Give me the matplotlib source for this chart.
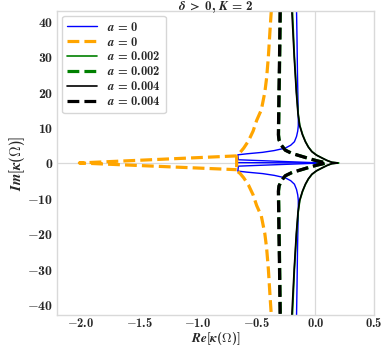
import matplotlib
matplotlib.use("Agg")
import matplotlib.pyplot as plt
import seaborn as sns

# --- DADOS ---
# a = 0, linha fina azul: ramo superior, ramo inferior e linha central
blue_up_re = [-0.160, -0.156, -0.152, -0.148, -0.145, -0.145, -0.150, -0.160, -0.178, -0.210,
              -0.256, -0.35, -0.45, -0.58, -0.66, -0.655, -0.50, -0.30, -0.10, 0.06]
blue_up_im = [43, 35, 25, 18, 14, 10.5, 9.0, 7.5, 6.0, 5.0,
              4.2, 3.5, 3.0, 2.6, 2.3, 0.9, 0.7, 0.45, 0.2, 0.0]
blue_lo_re = [-0.160, -0.156, -0.152, -0.148, -0.145, -0.145, -0.150, -0.160, -0.178, -0.210,
              -0.256, -0.35, -0.45, -0.58, -0.66, -0.655, -0.50, -0.30, -0.10, 0.06]
blue_lo_im = [-43, -35, -25, -18, -14, -10.5, -9.0, -7.5, -6.0, -5.0,
              -4.2, -3.5, -3.0, -2.6, -2.3, -0.9, -0.7, -0.45, -0.2, 0.0]
blue_mid_re = [-0.66, -0.30, 0.06]
blue_mid_im = [0.1, 0.05, 0.0]

# a = 0, tracejado laranja
orange_re = [-0.375, -0.385, -0.40, -0.415, -0.43, -0.46, -0.50, -0.53, -0.57, -0.61, -0.64, -0.67,
             -0.67,
             -0.64, -0.61, -0.57, -0.53, -0.50, -0.46, -0.43, -0.415, -0.40, -0.385, -0.375]
orange_im = [43, 38, 30, 24, 20, 15, 12, 9, 6.2, 4.2, 3.0, 2.3,
             -2.2,
             -3.0, -4.2, -6.2, -9, -12, -15, -20, -24, -30, -38, -43]
orange_tip_re = [-0.67, -2.01, -0.67]
orange_tip_im = [2.0, 0.0, -1.9]

# a = 0.002, verde (quase todo escondido pelas curvas pretas)
green_re = [-0.195, -0.178, -0.160, -0.146, -0.132, -0.108, -0.083, -0.058, -0.028, 0.012, 0.058, 0.10, 0.14, 0.20,
            0.14, 0.10, 0.058, 0.012, -0.028, -0.058, -0.083, -0.108, -0.132, -0.146, -0.160, -0.178, -0.195]
green_im = [43, 30, 20, 14, 10.6, 8, 6, 4.5, 3.2, 2.2, 1.4, 0.7, 0.2, 0.0,
            -0.2, -0.7, -1.4, -2.2, -3.2, -4.5, -6, -8, -10.6, -14, -20, -30, -43]
green_d_re = [-0.298, -0.303, -0.308, -0.311, -0.313, -0.308, -0.288, -0.254, -0.198, -0.108, -0.038, 0.016, 0.062, 0.095,
              0.062, 0.016, -0.038, -0.108, -0.198, -0.254, -0.288, -0.308, -0.313, -0.311, -0.308, -0.303, -0.298]
green_d_im = [43, 30, 20, 12, 8, 6.5, 5, 3.6, 2.7, 1.8, 1.1, 0.6, 0.25, 0.0,
              -0.25, -0.6, -1.1, -1.8, -2.7, -3.6, -5, -6.5, -8, -12, -20, -30, -43]

# a = 0.004, preto
black_re = [-0.200, -0.180, -0.162, -0.148, -0.134, -0.110, -0.085, -0.060, -0.030, 0.010, 0.057, 0.10, 0.14, 0.19,
            0.14, 0.10, 0.057, 0.010, -0.030, -0.060, -0.085, -0.110, -0.134, -0.148, -0.162, -0.180, -0.200]
black_im = [43, 30, 20, 14, 10.6, 8, 6, 4.5, 3.2, 2.2, 1.4, 0.7, 0.2, 0.0,
            -0.2, -0.7, -1.4, -2.2, -3.2, -4.5, -6, -8, -10.6, -14, -20, -30, -43]
black_d_re = [-0.300, -0.305, -0.310, -0.313, -0.315, -0.310, -0.290, -0.256, -0.200, -0.110, -0.040, 0.014, 0.060, 0.092,
              0.060, 0.014, -0.040, -0.110, -0.200, -0.256, -0.290, -0.310, -0.315, -0.313, -0.310, -0.305, -0.300]
black_d_im = [43, 30, 20, 12, 8, 6.5, 5, 3.6, 2.7, 1.8, 1.1, 0.6, 0.25, 0.0,
              -0.25, -0.6, -1.1, -1.8, -2.7, -3.6, -5, -6.5, -8, -12, -20, -30, -43]

x_ticks = [-2.0, -1.5, -1.0, -0.5, 0.0, 0.5]
y_ticks = [-40, -30, -20, -10, 0, 10, 20, 30, 40]

# --- ESTILO ---
sns.set_style("whitegrid")
plt.rcParams["mathtext.fontset"] = "custom"
plt.rcParams["mathtext.rm"] = "cmb10"
plt.rcParams["mathtext.bf"] = "cmb10"
plt.rcParams["mathtext.it"] = "STIXGeneral:italic:bold"
plt.rcParams["mathtext.sf"] = "STIXGeneral:bold"
plt.rcParams["axes.unicode_minus"] = True

fig = plt.figure(figsize=(3.88, 3.46), dpi=100)
ax = fig.add_axes([0.147, 0.089, 0.817, 0.880])
ax.grid(False)

ax.axhline(0, color="0.85", lw=0.9, zorder=0)
ax.axvline(0, color="0.85", lw=0.9, zorder=0)

ax.plot(blue_up_re, blue_up_im, color="blue", lw=1.0, label=r"$a\,=\,0$")
ax.plot(blue_lo_re, blue_lo_im, color="blue", lw=1.0)
ax.plot(blue_mid_re, blue_mid_im, color="blue", lw=1.0)
ax.plot(orange_re, orange_im, color="orange", lw=2.3, ls="--", label=r"$a\,=\,0$")
ax.plot(orange_tip_re, orange_tip_im, color="orange", lw=2.3, ls="--")
ax.plot(green_re, green_im, color="green", lw=1.2, label=r"$a\,=\,0.002$")
ax.plot(green_d_re, green_d_im, color="green", lw=2.3, ls="--", label=r"$a\,=\,0.002$")
ax.plot(black_re, black_im, color="black", lw=1.2, label=r"$a\,=\,0.004$")
ax.plot(black_d_re, black_d_im, color="black", lw=2.3, ls="--", label=r"$a\,=\,0.004$")

ax.set_xlim(-2.2, 0.5)
ax.set_ylim(-43, 43)
ax.set_xticks(x_ticks)
ax.set_yticks(y_ticks)
ax.set_xticklabels([r"$%.1f$" % v for v in x_ticks], fontsize=9)
ax.set_yticklabels([r"$%d$" % v for v in y_ticks], fontsize=10)
ax.tick_params(axis="x", length=0, pad=1)
ax.tick_params(axis="y", length=0, pad=3)

for s in ax.spines.values():
    s.set_color("0.85")
    s.set_linewidth(1.0)

ax.set_xlabel(r"$Re[\kappa(\Omega)]$", fontsize=9.5, labelpad=0)
ax.set_ylabel(r"$Im[\kappa(\Omega)]$", fontsize=10.5, labelpad=0)
ax.set_title(r"$\delta\;\mathsf{>}\;0,\,K\,=\,2$", fontsize=9.5, pad=0.5)

ax.legend(loc="upper left", fontsize=9, frameon=True, handlelength=2.4,
          borderaxespad=0.4, labelspacing=0.15, borderpad=0.4)

fig.savefig("out.png", dpi=100)
